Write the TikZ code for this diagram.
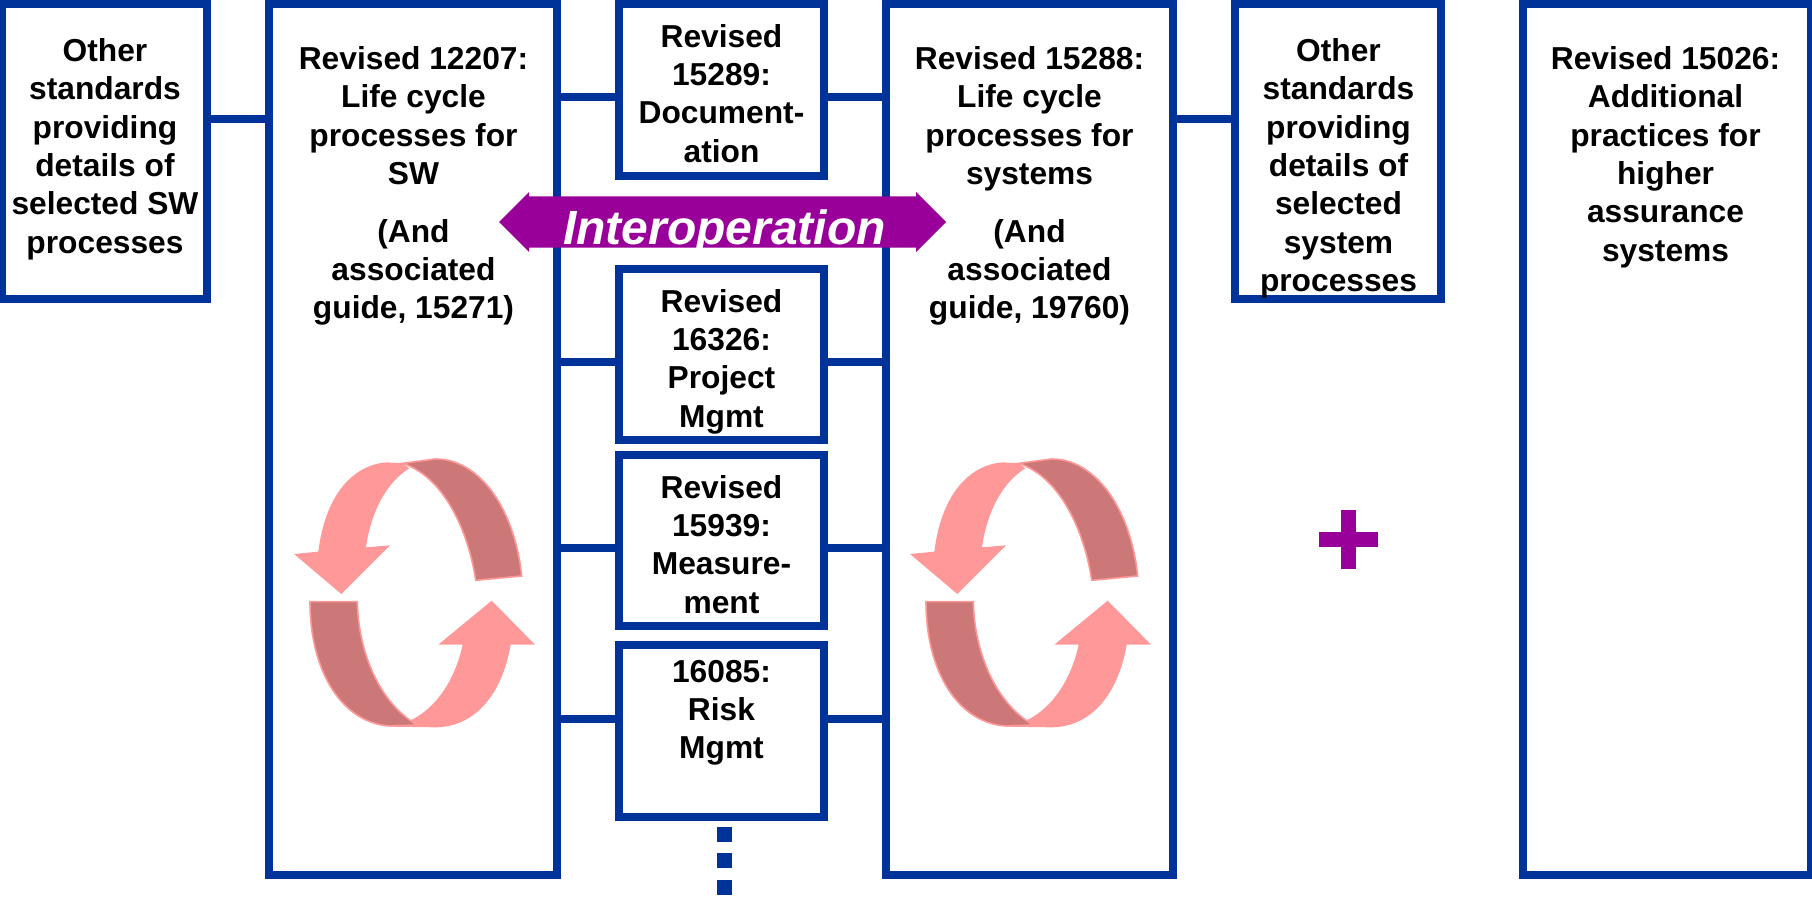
\documentclass[tikz,border=0pt]{standalone}
\usepackage{fontspec}
\setmainfont{Liberation Sans}
\usetikzlibrary{shapes.arrows}
\definecolor{stdblue}{HTML}{003399}
\definecolor{stdpurple}{HTML}{990099}
\definecolor{cyclepink}{HTML}{FF9999}
\definecolor{cycledark}{HTML}{CC7878}
\tikzset{
  stdbox/.style={draw=stdblue,line width=6pt,inner sep=0pt,fill=white},
  boxtext/.style={anchor=north,align=center,font=\fontsize{23.8}{28.7}\selectfont\bfseries},
  link/.style={draw=stdblue,line width=6pt},
  dotbox/.style={fill=stdblue,inner sep=0pt,minimum size=11.25pt},
  cyclearrows/.pic={
    \begin{scope}[scale=1/3]
      \fill[cyclepink] (115,335) -- (42,342) -- (184,462) -- (330,316) -- (258,322)
        .. controls (275,200) and (330,120) .. (388,85) -- (368,70) -- (320,67)
        .. controls (215,75) and (135,170) .. (115,335) -- cycle;
      \filldraw[fill=cycledark,draw=cyclepink,line width=1.2pt] (368,70) -- (465,57)
        .. controls (600,55) and (705,210) .. (725,408) -- (587,421)
        .. controls (565,270) and (490,110) .. (368,70) -- cycle;
      \fill[cyclepink] (635,482) -- (765,614) -- (692,614)
        .. controls (665,770) and (580,862) .. (465,862) -- (330,860) -- (398,838)
        .. controls (470,800) and (525,720) .. (548,614) -- (475,614) -- cycle;
      \filldraw[fill=cycledark,draw=cyclepink,line width=1.2pt] (90,485) -- (232,485)
        .. controls (235,640) and (300,790) .. (412,855) -- (330,858)
        .. controls (190,850) and (90,700) .. (90,485) -- cycle;
    \end{scope}
  }
}
\begin{document}
\begin{tikzpicture}[x=0.75pt,y=-0.75pt]
  \useasboundingbox (0,0) rectangle (1812,898);

  % boxes
  \node[stdbox,minimum width=154.1pt,minimum height=221.6pt] (othersw) at (104.75,151.75) {};
  \node[stdbox,minimum width=216pt,minimum height=653.25pt] (lifesw) at (413,439.5) {};
  \node[stdbox,minimum width=154.1pt,minimum height=129pt] (doc) at (721.25,90) {};
  \node[stdbox,minimum width=154.1pt,minimum height=128.25pt] (project) at (721.25,354.5) {};
  \node[stdbox,minimum width=154.1pt,minimum height=128.6pt] (measure) at (721.25,540.75) {};
  \node[stdbox,minimum width=154.1pt,minimum height=129pt] (risk) at (721.25,731) {};
  \node[stdbox,minimum width=215.6pt,minimum height=653.25pt] (lifesys) at (1029.25,439.5) {};
  \node[stdbox,minimum width=154.5pt,minimum height=221.6pt] (othersys) at (1338,151.75) {};
  \node[stdbox,minimum width=216pt,minimum height=653.25pt] (assurance) at (1667,439.5) {};

  % connectors
  \draw[link] (othersw.east |- 0,119) -- (lifesw.west |- 0,119);
  \draw[link] (lifesys.east |- 0,119) -- (othersys.west |- 0,119);
  \foreach \name/\y in {doc/97,project/362,measure/548,risk/719} {
    \draw[link] (lifesw.east |- 0,\y) -- (\name.west |- 0,\y);
    \draw[link] (\name.east |- 0,\y) -- (lifesys.west |- 0,\y);
  }

  % texts
  \node[boxtext] (otherswtext) at (105,34) {Other\\standards\\providing\\details of\\selected SW\\processes};
  \node[boxtext] (lifeswtext) at (413.5,42) {Revised 12207:\\Life cycle\\processes for\\SW\\[14.5pt](And\\associated\\guide, 15271)};
  \node[boxtext] (doctext) at (721.5,19.5) {Revised\\15289:\\Document-\\ation};
  \node[boxtext] (projecttext) at (721.5,284.5) {Revised\\16326:\\Project\\Mgmt};
  \node[boxtext] (measuretext) at (721.5,470.5) {Revised\\15939:\\Measure-\\ment};
  \node[boxtext] (risktext) at (721.5,655.5) {16085:\\Risk\\Mgmt};
  \node[boxtext] (lifesystext) at (1029.5,42) {Revised 15288:\\Life cycle\\processes for\\systems\\[14.5pt](And\\associated\\guide, 19760)};
  \node[boxtext] (othersystext) at (1338.5,34) {Other\\standards\\providing\\details of\\selected\\system\\processes};
  \node[boxtext] (assurancetext) at (1665.5,42) {Revised 15026:\\Additional\\practices for\\higher\\assurance\\systems};

  % interoperation arrow
  \node[double arrow,fill=stdpurple,inner sep=0pt,minimum height=335.25pt,minimum width=45pt,
    double arrow head extend=3pt,double arrow tip angle=90,text=white,text height=34.5pt,text depth=0pt,
    font=\fontsize{36}{40}\selectfont\bfseries\itshape] (interop) at (722.5,222) {\hspace*{3pt}Interoperation};

  % cycles
  \pic at (280,440) {cyclearrows};
  \pic at (896,440) {cyclearrows};

  % plus
  \fill[stdpurple] (1319,531.5) rectangle (1377.5,546.5);
  \fill[stdpurple] (1341,509.5) rectangle (1356,568.5);

  % dots
  \foreach \y in {834.5,860.5,887.5} {
    \node[dotbox] (dot\y) at (724.5,\y) {};
  }
\end{tikzpicture}
\end{document}
